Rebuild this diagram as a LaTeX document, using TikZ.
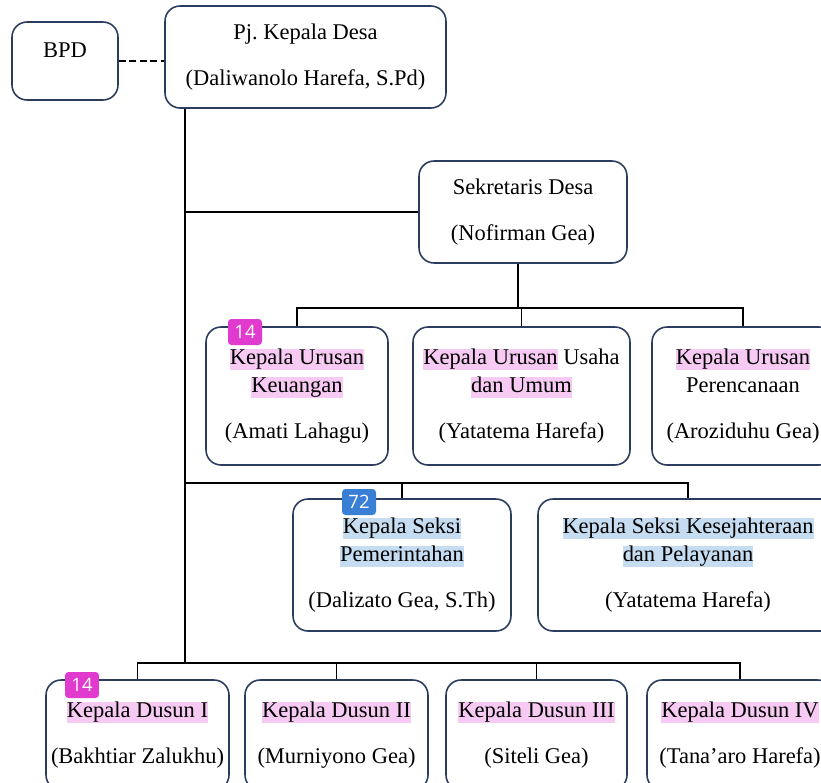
\documentclass[tikz,border=0pt]{standalone}
\usepackage{fontspec}
\setmainfont{Liberation Serif}
\newfontfamily\badgefont{Open Sans}
\frenchspacing

\definecolor{boxline}{HTML}{2B3D5E}
\definecolor{hlpink}{HTML}{F7CAF3}
\definecolor{hlblue}{HTML}{C6DCF1}
\definecolor{tagpink}{HTML}{E03ACF}
\definecolor{tagblue}{HTML}{3A7FD6}

% stabilo di belakang teks
\newcommand{\hlp}[1]{{\setlength{\fboxsep}{0pt}\colorbox{hlpink}{\rule[-3pt]{0pt}{12pt}#1}}}
\newcommand{\hlb}[1]{{\setlength{\fboxsep}{0pt}\colorbox{hlblue}{\rule[-3pt]{0pt}{12pt}#1}}}

\begin{document}
\begin{tikzpicture}[
    x=0.02cm, y=-0.02cm,
    teks/.style={font=\fontsize{12.8}{15.9}\selectfont, inner sep=0pt},
    jabatan/.style={teks, rectangle, draw=boxline, line width=0.9pt, rounded corners=0.3cm, align=center},
    garis/.style={line width=1.1pt},
    tanda/.style={rectangle, rounded corners=2pt, inner sep=0pt, minimum width=0.68cm, minimum height=0.52cm, text=white, font=\badgefont\fontsize{10.5}{12}\selectfont}
]
\fill[white] (0,0) rectangle (821,782);
\useasboundingbox (0,0) rectangle (821,782);

% Pimpinan
\node[jabatan, minimum width=2.12cm, minimum height=1.56cm] (bpd) at (65,61) {};
\node[teks] (bpdteks) at (65,50) {BPD};
\node[jabatan, minimum width=5.62cm, minimum height=2.04cm] (kades) at (305.5,57) {Pj. Kepala Desa\\[10pt](Daliwanolo Harefa, S.Pd)};
\node[jabatan, minimum width=4.16cm, minimum height=2.04cm] (sekdes) at (523,212) {Sekretaris Desa\\[10pt](Nofirman Gea)};

% Kepala urusan
\node[jabatan, minimum width=3.64cm, minimum height=2.76cm] (kaur1) at (297,396) {\hlp{Kepala Urusan}\\\hlp{Keuangan}\\[10pt](Amati Lahagu)};
\node[jabatan, minimum width=4.34cm, minimum height=2.76cm] (kaur2) at (521.5,396) {\hlp{Kepala Urusan} Usaha\\\hlp{dan Umum}\\[10pt](Yatatema Harefa)};
\node[jabatan, minimum width=3.64cm, minimum height=2.76cm] (kaur3) at (743,396) {\hlp{Kepala Urusan}\\Perencanaan\\[10pt](Aroziduhu Gea)};

% Kepala seksi
\node[jabatan, minimum width=4.36cm, minimum height=2.64cm] (kasi1) at (402,565) {\hlb{Kepala Seksi}\\\hlb{Pemerintahan}\\[10pt](Dalizato Gea, S.Th)};
\node[jabatan, minimum width=6.0cm, minimum height=2.64cm] (kasi2) at (688,565) {\hlb{Kepala Seksi Kesejahteraan}\\\hlb{dan Pelayanan}\\[10pt](Yatatema Harefa)};

% Kepala dusun
\node[jabatan, minimum width=3.66cm, minimum height=2.2cm] (dusun1) at (137.5,735) {\hlp{Kepala Dusun I}\\[10pt](Bakhtiar Zalukhu)};
\node[jabatan, minimum width=3.66cm, minimum height=2.2cm] (dusun2) at (336.5,735) {\hlp{Kepala Dusun II}\\[10pt](Murniyono Gea)};
\node[jabatan, minimum width=3.62cm, minimum height=2.2cm] (dusun3) at (536.5,735) {\hlp{Kepala Dusun III}\\[10pt](Siteli Gea)};
\node[jabatan, minimum width=3.72cm, minimum height=2.2cm] (dusun4) at (740,735) {\hlp{Kepala Dusun IV}\\[10pt](Tana'aro Harefa)};

% Garis komando
\coordinate (akar) at (185,663);
\coordinate (jalurA) at (518,308);
\coordinate (jalurB) at (0,483);
\draw[garis, dash pattern=on 4pt off 2pt] (bpd.east) -- (bpd.east -| kades.west);
\draw[garis] (kades.south -| akar) -- (akar);
\draw[garis] (sekdes.west -| akar) -- (sekdes.west);
\draw[garis] (sekdes.south -| jalurA) -- (jalurA);
\draw[garis] (kaur1.north) -- (kaur1.north |- jalurA) -- (kaur3.north |- jalurA) -- (kaur3.north);
\draw[garis] (kaur2.north) -- (kaur2.north |- jalurA);
\draw[garis] (akar |- jalurB) -- (kasi2.north |- jalurB) -- (kasi2.north);
\draw[garis] (kasi1.north) -- (kasi1.north |- jalurB);
\draw[garis] (dusun1.north) -- (dusun1.north |- akar) -- (dusun4.north |- akar) -- (dusun4.north);
\foreach \d in {dusun2, dusun3}
    \draw[garis] (\d.north) -- (\d.north |- akar);

% Penanda
\node[tanda, fill=tagpink] (tanda1) at (245,332) {14};
\node[tanda, fill=tagblue] (tanda2) at (359,502) {72};
\node[tanda, fill=tagpink] (tanda3) at (82,685) {14};

\end{tikzpicture}
\end{document}
